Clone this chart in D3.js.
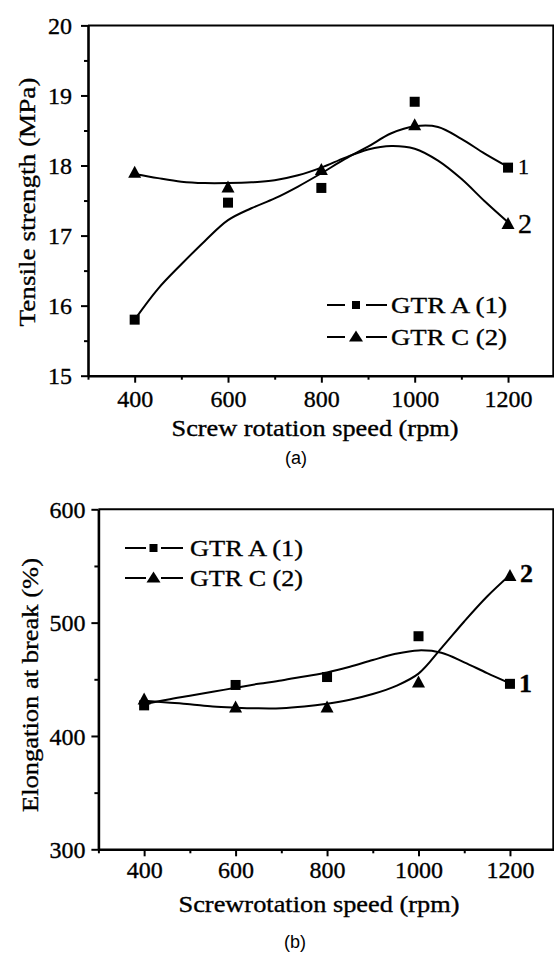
<!DOCTYPE html>
<html>
<head>
<meta charset="utf-8">
<script src="https://cdn.jsdelivr.net/npm/d3@7/dist/d3.min.js"></script>
<style>
  html, body { margin: 0; padding: 0; background: #fff; }
  svg { display: block; }
</style>
</head>
<body>
<svg id="fig" width="554" height="954"></svg>
<script>
// ---- measured data ----
const speeds = [400, 600, 800, 1000, 1200];

// Tensile strength (MPa)
const tensileA = [15.80, 17.47, 17.68, 18.91, 17.97];
const tensileC = [17.91, 17.70, 17.95, 18.59, 17.18];

// Elongation at break (%)
const elongA = [427, 445, 452, 488, 446];
const elongC = [433, 426, 426, 448, 542];

// smoothed fit curves, sampled every 50 rpm
const fitSpeeds = [400, 450, 500, 550, 600, 650, 700, 750, 800, 850, 900, 950, 1000, 1050, 1100, 1150, 1200];
const tensileFitA = [15.80, 16.24, 16.59, 16.92, 17.22, 17.39, 17.53, 17.70, 17.89, 18.09, 18.27, 18.46, 18.56, 18.55, 18.38, 18.17, 17.98];
const tensileFitC = [17.88, 17.82, 17.77, 17.75, 17.75, 17.76, 17.79, 17.86, 17.97, 18.11, 18.23, 18.28, 18.24, 18.07, 17.81, 17.49, 17.19];
const elongFitA = [428, 432, 435.5, 439, 442.5, 446, 449, 452.5, 456, 461, 467, 472.5, 475.5, 473.5, 465, 455.5, 446.5];
const elongFitC = [431, 429.5, 428, 426, 425, 424.4, 424.5, 426, 428.5, 432, 437, 444, 455, 477.5, 501, 523, 542];

// axes
const xTicks = [400, 600, 800, 1000, 1200];
const xMinorTicks = [300, 500, 700, 900, 1100];
const tensileTicks = [15, 16, 17, 18, 19, 20];
const tensileMinorTicks = [15.5, 16.5, 17.5, 18.5, 19.5];
const elongTicks = [300, 400, 500, 600];
const elongMinorTicks = [350, 450, 550];

const seriesNames = ["GTR A (1)", "GTR C (2)"];
const curveTags = ["1", "2"];

// ---- drawing ----
const svg = d3.select("#fig");
svg.append("rect").attr("width", 554).attr("height", 954).attr("fill", "#fff");

const SERIF = "'Liberation Serif', 'Times New Roman', serif";
const SANS = "'Liberation Sans', Arial, sans-serif";
const INK = 0.35; // slight outline to thicken serif text

function triPath(cx, cy, w, h) {
  return `M${cx},${cy - h / 2}L${cx + w / 2},${cy + h / 2}L${cx - w / 2},${cy + h / 2}Z`;
}

function serifText(sel) {
  return sel.attr("font-family", SERIF).attr("fill", "#000")
    .attr("stroke", "#000").attr("stroke-width", INK);
}

function drawPanel(p) {
  const g = svg.append("g");
  const x = d3.scaleLinear().domain([300, 1300]).range([p.left, p.right]);
  const y = d3.scaleLinear().domain(p.yDomain).range([p.bottom, p.top]);

  // top and right frame
  g.append("path")
    .attr("d", `M${p.left},${p.top}H553.3V${p.bottom}`)
    .attr("fill", "none").attr("stroke", "#000").attr("stroke-width", 2);

  // x axis, major + minor ticks
  const gx = g.append("g").attr("transform", `translate(0,${p.bottom})`)
    .call(d3.axisBottom(x).tickValues(xTicks).tickSize(7).tickSizeOuter(0).tickFormat(d3.format("d")));
  gx.attr("font-family", SERIF).attr("font-size", 24);
  gx.select(".domain").attr("stroke-width", 2.6);
  gx.selectAll(".tick line").attr("stroke-width", 2);
  serifText(gx.selectAll(".tick text").attr("y", p.xLabelBase).attr("dy", 0));
  const gxm = g.append("g").attr("transform", `translate(0,${p.bottom})`)
    .call(d3.axisBottom(x).tickValues(xMinorTicks).tickSize(4).tickSizeOuter(0).tickFormat(""));
  gxm.select(".domain").remove();
  gxm.selectAll(".tick line").attr("stroke-width", 2);

  // y axis, major + minor ticks
  const gy = g.append("g").attr("transform", `translate(${p.left},0)`)
    .call(d3.axisLeft(y).tickValues(p.yTicks).tickSize(7).tickSizeOuter(0).tickFormat(d3.format("d")));
  gy.attr("font-family", SERIF).attr("font-size", 24);
  gy.select(".domain").attr("stroke-width", 2.6);
  gy.selectAll(".tick line").attr("stroke-width", 2);
  serifText(gy.selectAll(".tick text").attr("x", -p.yLabelGap).attr("dy", "0.34em"));
  const gym = g.append("g").attr("transform", `translate(${p.left},0)`)
    .call(d3.axisLeft(y).tickValues(p.yMinor).tickSize(4).tickSizeOuter(0).tickFormat(""));
  gym.select(".domain").remove();
  gym.selectAll(".tick line").attr("stroke-width", 2);

  // fitted curves
  const line = d3.line()
    .x((d, i) => x(fitSpeeds[i]))
    .y(d => y(d))
    .curve(d3.curveCatmullRom.alpha(0.5));
  [p.fitA, p.fitC].forEach(fit => {
    g.append("path").attr("d", line(fit))
      .attr("fill", "none").attr("stroke", "#000").attr("stroke-width", 2);
  });

  // measured points
  g.selectAll(null).data(p.dataA).join("rect")
    .attr("x", (d, i) => x(speeds[i]) - 5).attr("y", d => y(d) - 5)
    .attr("width", 10).attr("height", 10).attr("fill", "#000");
  g.selectAll(null).data(p.dataC).join("path")
    .attr("d", (d, i) => triPath(x(speeds[i]), y(d), 13, 12)).attr("fill", "#000");

  // curve tags at the right end
  const last = speeds.length - 1;
  p.tags.forEach((t, k) => {
    const v = k === 0 ? p.dataA[last] : p.dataC[last];
    serifText(g.append("text").text(curveTags[k])
      .attr("x", x(speeds[last]) + t.dx).attr("y", y(v) + t.dy)
      .attr("font-size", t.size)
      .attr("font-weight", t.weight || "normal"));
  });

  // legend
  const L = p.legend;
  seriesNames.forEach((name, k) => {
    const cy = L.rows[k];
    g.append("line").attr("x1", L.x0).attr("x2", L.x1).attr("y1", cy).attr("y2", cy)
      .attr("stroke", "#000").attr("stroke-width", 2);
    g.append("line").attr("x1", L.x2).attr("x2", L.x3).attr("y1", cy).attr("y2", cy)
      .attr("stroke", "#000").attr("stroke-width", 2);
    if (k === 0) {
      g.append("rect").attr("x", L.mx - 4).attr("y", cy - 4).attr("width", 8).attr("height", 8).attr("fill", "#000");
    } else {
      g.append("path").attr("d", triPath(L.mx, cy - 1, 14, 11)).attr("fill", "#000");
    }
    serifText(g.append("text").text(name)
      .attr("x", L.tx).attr("y", cy + 8)
      .attr("font-size", 24)
      .attr("textLength", L.tw).attr("lengthAdjust", "spacingAndGlyphs"));
  });

  // axis titles
  serifText(g.append("text").text(p.xTitle)
    .attr("x", p.xTitlePos[0]).attr("y", p.xTitlePos[1]).attr("text-anchor", "middle")
    .attr("font-size", 24)
    .attr("textLength", p.xTitleLen).attr("lengthAdjust", "spacingAndGlyphs"));
  serifText(g.append("text").text(p.yTitle)
    .attr("transform", `translate(${p.yTitlePos[0]},${p.yTitlePos[1]}) rotate(-90)`)
    .attr("text-anchor", "middle")
    .attr("font-size", 24)
    .attr("textLength", p.yTitleLen).attr("lengthAdjust", "spacingAndGlyphs"));

  // panel caption
  g.append("text").text(p.caption)
    .attr("x", p.captionPos[0]).attr("y", p.captionPos[1]).attr("text-anchor", "middle")
    .attr("font-family", SANS).attr("font-size", 18).attr("fill", "#000");
}

drawPanel({
  left: 88, right: 554.7, top: 25.4, bottom: 375.7,
  yDomain: [15, 20], yTicks: tensileTicks, yMinor: tensileMinorTicks,
  xLabelBase: 31, yLabelGap: 16,
  dataA: tensileA, dataC: tensileC, fitA: tensileFitA, fitC: tensileFitC,
  tags: [{ dx: 10, dy: 6, size: 22 }, { dx: 10, dy: 10, size: 28 }],
  legend: { rows: [305, 337], x0: 327, x1: 345, x2: 366, x3: 387, mx: 356, tx: 391, tw: 116 },
  xTitle: "Screw rotation speed (rpm)", xTitlePos: [315, 436], xTitleLen: 287,
  yTitle: "Tensile strength (MPa)", yTitlePos: [35, 202], yTitleLen: 249,
  caption: "(a)", captionPos: [296, 464]
});

drawPanel({
  left: 98.4, right: 555.7, top: 509.3, bottom: 849.3,
  yDomain: [300, 600], yTicks: elongTicks, yMinor: elongMinorTicks,
  xLabelBase: 28.5, yLabelGap: 13,
  dataA: elongA, dataC: elongC, fitA: elongFitA, fitC: elongFitC,
  tags: [{ dx: 9, dy: 8, size: 26, weight: "bold" }, { dx: 10, dy: 7, size: 26, weight: "bold" }],
  legend: { rows: [548, 578], x0: 125, x1: 146, x2: 161, x3: 183, mx: 153.5, tx: 190, tw: 113 },
  xTitle: "Screwrotation speed (rpm)", xTitlePos: [319, 912], xTitleLen: 281,
  yTitle: "Elongation at break (%)", yTitlePos: [38, 685], yTitleLen: 254,
  caption: "(b)", captionPos: [295, 948]
});
</script>
</body>
</html>
